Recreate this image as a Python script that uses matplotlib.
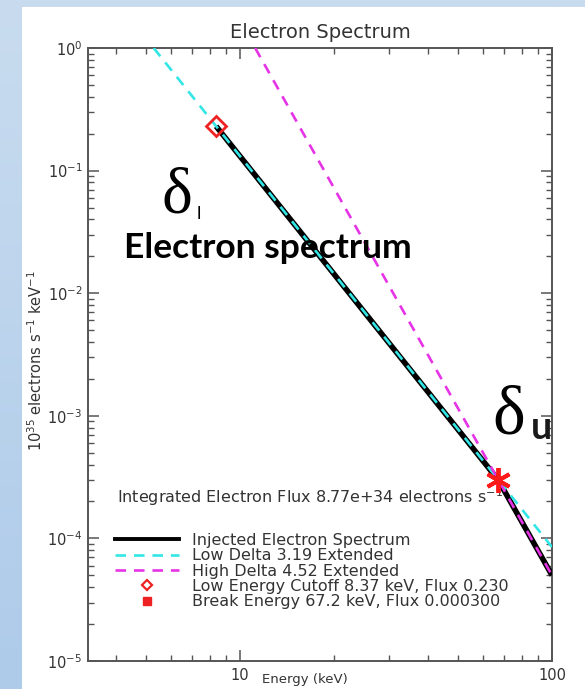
import numpy as np
import matplotlib
matplotlib.use("Agg")
import matplotlib.pyplot as plt
from matplotlib.lines import Line2D
from matplotlib.patches import Rectangle
from matplotlib.colors import LinearSegmentedColormap
from matplotlib.ticker import LogLocator, FixedLocator, FixedFormatter, NullFormatter

plt.rcParams['font.family'] = ['DejaVu Sans']

# ---- data ----
inj_energy = [8.37, 67.2, 100.0]
inj_flux = [0.230, 0.000300, 5.0e-5]
low_energy = [5.28, 100.0]
low_flux = [1.0, 8.5e-5]
high_energy = [11.17, 100.0]
high_flux = [1.0, 5.0e-5]
cutoff_point = (8.37, 0.230)
break_point = (67.2, 0.000300)
legend_labels = ["Injected Electron Spectrum", "Low Delta 3.19 Extended",
                 "High Delta 4.52 Extended", "Low Energy Cutoff 8.37 keV, Flux 0.230",
                 "Break Energy 67.2 keV, Flux 0.000300"]
xtick_vals = [10, 100]
xtick_labels = ["10", "100"]

W, H = 585, 689
fig = plt.figure(figsize=(W / 100, H / 100), dpi=100)

# background gradient
bg = fig.add_axes([0, 0, 1, 1], zorder=-10)
grad = np.linspace(0, 1, 256).reshape(-1, 1)
cm = LinearSegmentedColormap.from_list("bg", ["#c9dcef", "#aecbea"])
bg.imshow(grad, aspect='auto', cmap=cm, extent=[0, 1, 0, 1])
bg.add_patch(Rectangle((22 / W, 0), 1 - 22 / W, 1 - 7 / H, facecolor='white', edgecolor='none'))
bg.set_xlim(0, 1); bg.set_ylim(0, 1)
bg.axis('off')

ax = fig.add_axes([88 / W, 1 - 661 / H, (552 - 88) / W, (661 - 48) / H])
ax.set_facecolor('none')
ax.set_xscale('log'); ax.set_yscale('log')
ax.set_xlim(3.25, 100)
ax.set_ylim(1e-5, 1)

ax.plot(inj_energy, inj_flux, color='black', lw=4.0, solid_capstyle='butt', zorder=3)
ax.plot(low_energy, low_flux, color='#33e6e6', lw=1.9, dashes=(4, 3), zorder=4)
ax.plot(high_energy, high_flux, color='#e633e6', lw=1.9, dashes=(4, 3), zorder=4)
ax.plot([cutoff_point[0]], [cutoff_point[1]], marker='D', ms=10, mfc='none', mec='#ee2222', mew=2, zorder=5)
ax.plot([break_point[0]], [break_point[1]], marker=(6, 2, 0), ms=18, mec='#ff1a1a', mew=2.8, zorder=5)

spine_c = '#555555'
txt_c = '#333333'
for s in ax.spines.values():
    s.set_color(spine_c); s.set_linewidth(1.4)

ax.xaxis.set_major_locator(FixedLocator(xtick_vals))
ax.xaxis.set_major_formatter(FixedFormatter(xtick_labels))
ax.xaxis.set_minor_locator(LogLocator(base=10, subs=np.arange(2, 10), numticks=20))
ax.xaxis.set_minor_formatter(NullFormatter())
ax.yaxis.set_major_locator(LogLocator(base=10, numticks=10))
ax.yaxis.set_minor_locator(LogLocator(base=10, subs=np.arange(2, 10), numticks=20))
ax.yaxis.set_minor_formatter(NullFormatter())
ax.tick_params(which='both', direction='in', top=True, right=True, colors=spine_c,
               labelcolor=txt_c, labelsize=10.5)
ax.tick_params(which='major', length=8, width=1.1, pad=5)
ax.tick_params(which='minor', length=4, width=1.0)
ax.tick_params(axis='y', which='major', pad=4)

ax.set_title("Electron Spectrum", fontsize=14, color=txt_c, pad=7)
ax.set_xlabel("Energy (keV)", fontsize=9.5, color=txt_c)
ax.xaxis.set_label_coords(0.468, -0.02)
ax.set_ylabel(r"$\mathdefault{10^{35}}$ electrons s$\mathdefault{^{-1}}$ keV$\mathdefault{^{-1}}$",
              fontsize=10.5, color=txt_c)
ax.yaxis.set_label_coords(-0.092, 0.49)

ax.text(0.063, 0.267, r"Integrated Electron Flux 8.77e+34 electrons s$\mathdefault{^{-1}}$",
        transform=ax.transAxes, fontsize=11.5, color=txt_c, va='center', ha='left')

handles = [Line2D([], [], color='black', lw=2.8),
           Line2D([], [], color='#33e6e6', lw=1.9, dashes=(4, 3)),
           Line2D([], [], color='#e633e6', lw=1.9, dashes=(4, 3)),
           Line2D([], [], ls='none', marker='D', ms=5, mfc='none', mec='#ee2222', mew=1.6),
           Line2D([], [], ls='none', marker='s', ms=6, mfc='#ee2222', mec='#ee2222')]
leg = ax.legend(handles, legend_labels, loc='upper left', bbox_to_anchor=(0.058, 0.209),
                frameon=False, fontsize=11.5, handlelength=4.0, handletextpad=0.8,
                labelspacing=0.02, borderaxespad=0, borderpad=0)
for t in leg.get_texts():
    t.set_color(txt_c)

# overlay annotations
fig.text(162 / W, 1 - 197 / H, "δ", family='Liberation Serif', fontsize=47, color='black', va='center')
fig.text(197 / W, 1 - 214 / H, "l", family='Lato', fontsize=13, color='black', va='center')
fig.text(124 / W, 1 - 248 / H, "Electron spectrum", family='Lato', fontweight='bold', fontsize=25.5,
         color='black', va='center')
fig.text(492 / W, 1 - 417 / H, "δ", family='Liberation Serif', fontsize=50, color='black', va='center')
fig.text(531 / W, 1 - 428 / H, "u", family='Lato', fontweight='bold', fontsize=27, color='#1a1a1a', va='center')

fig.savefig("out.png", dpi=100)
